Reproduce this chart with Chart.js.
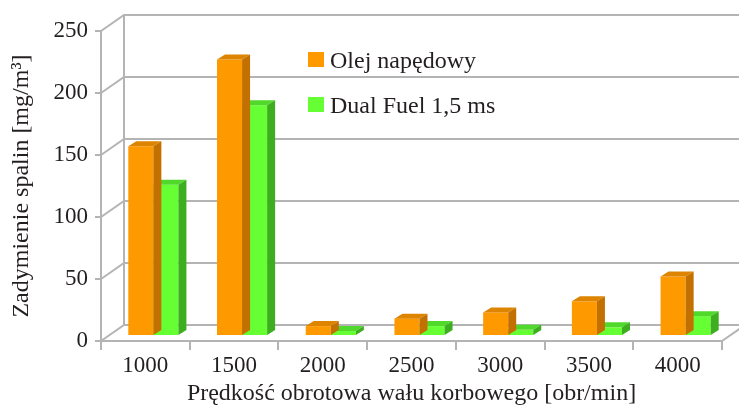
<!DOCTYPE html>
<html>
<head>
<meta charset="utf-8">
<script src="https://cdn.jsdelivr.net/npm/chart.js@4.4.1/dist/chart.umd.min.js"></script>
<style>
    html, body { margin: 0; padding: 0; background: #ffffff; }
</style>
</head>
<body>
<canvas id="myChart" width="739" height="407"></canvas>
<script>
const speeds = ['1000', '1500', '2000', '2500', '3000', '3500', '4000'];
const diesel = [153, 223, 8, 14, 19, 28, 48];
const dualFuel = [122, 186, 4, 8, 5, 7, 16];
const seriesNames = ['Olej napędowy', 'Dual Fuel 1,5 ms'];
const yMin = 0;
const yMax = 250;
const yStep = 50;

const FONT = 'Liberation Serif';
const TEXT = '#231f20';
const GRID = '#b4b4b4';

// front, top, side shades for the fake 3D bars
const shades = [
    { front: '#ff9900', top: '#dd8500', side: '#c27000' },
    { front: '#66ff33', top: '#50d82a', side: '#3cae20' }
];

const wall = { dx: 23, dy: -16 };   // depth of the back wall
const shift = { dx: 8, dy: -5 };    // bars sit a bit inside the box
const depth = { dx: 8, dy: -5 };    // depth of each bar

const box3d = {
    id: 'box3d',
    beforeDatasetsDraw(chart) {
        const ctx = chart.ctx;
        const y = chart.scales.y;
        const area = chart.chartArea;
        ctx.save();
        ctx.strokeStyle = GRID;
        ctx.lineWidth = 2;
        y.ticks.forEach(t => {
            const py = y.getPixelForValue(t.value);
            ctx.beginPath();
            ctx.moveTo(area.left, py);
            ctx.lineTo(area.left + wall.dx, py + wall.dy);
            ctx.lineTo(chart.width, py + wall.dy);
            ctx.stroke();
        });
        // back wall left edge
        ctx.beginPath();
        ctx.moveTo(area.left + wall.dx, y.getPixelForValue(yMax) + wall.dy);
        ctx.lineTo(area.left + wall.dx, y.getPixelForValue(yMin) + wall.dy);
        ctx.stroke();
        // floor right edge
        ctx.beginPath();
        ctx.moveTo(area.right, area.bottom);
        ctx.lineTo(area.right + wall.dx, area.bottom + wall.dy);
        ctx.stroke();
        ctx.restore();

        ctx.save();
        ctx.translate(shift.dx, shift.dy);
    },
    afterDatasetDraw(chart, args) {
        const ctx = chart.ctx;
        const s = shades[args.index];
        chart.getDatasetMeta(args.index).data.forEach(bar => {
            const l = bar.x - bar.width / 2;
            const r = bar.x + bar.width / 2;
            ctx.fillStyle = s.top;
            ctx.beginPath();
            ctx.moveTo(l, bar.y);
            ctx.lineTo(r, bar.y);
            ctx.lineTo(r + depth.dx, bar.y + depth.dy);
            ctx.lineTo(l + depth.dx, bar.y + depth.dy);
            ctx.closePath();
            ctx.fill();
            ctx.fillStyle = s.side;
            ctx.beginPath();
            ctx.moveTo(r, bar.y);
            ctx.lineTo(r + depth.dx, bar.y + depth.dy);
            ctx.lineTo(r + depth.dx, bar.base + depth.dy);
            ctx.lineTo(r, bar.base);
            ctx.closePath();
            ctx.fill();
        });
    },
    afterDatasetsDraw(chart) {
        chart.ctx.restore();
    },
    afterDraw(chart) {
        // legend
        const ctx = chart.ctx;
        ctx.save();
        ctx.font = '24px "' + FONT + '"';
        ctx.textBaseline = 'alphabetic';
        chart.data.datasets.forEach((ds, i) => {
            const top = 52 + i * 45;
            const w = ctx.measureText(ds.label).width;
            ctx.fillStyle = '#ffffff';
            ctx.fillRect(327, top - 5, w + 6, 27);
            ctx.fillStyle = ds.backgroundColor;
            ctx.fillRect(308, top, 16, 15);
            ctx.fillStyle = TEXT;
            ctx.fillText(ds.label, 330, top + 16);
        });
        ctx.restore();
    }
};

const ctx = document.getElementById('myChart').getContext('2d');

new Chart(ctx, {
    type: 'bar',
    data: {
        labels: speeds,
        datasets: [
            { label: seriesNames[0], data: diesel, backgroundColor: shades[0].front, clip: false,
              categoryPercentage: 0.565, barPercentage: 1 },
            { label: seriesNames[1], data: dualFuel, backgroundColor: shades[1].front, clip: false,
              categoryPercentage: 0.565, barPercentage: 1 }
        ]
    },
    options: {
        responsive: false,
        animation: false,
        events: [],
        layout: {
            padding: { top: 31, right: 17, left: 0, bottom: 0 }
        },
        plugins: {
            legend: { display: false },
            tooltip: { enabled: false }
        },
        scales: {
            x: {
                afterFit(scale) { scale.height = 66; },
                grid: {
                    drawOnChartArea: false,
                    tickLength: 9,
                    color: GRID,
                    lineWidth: 2
                },
                border: { display: true, color: GRID, width: 2 },
                ticks: {
                    padding: 2,
                    color: TEXT,
                    font: { family: FONT, size: 23 }
                },
                title: {
                    display: true,
                    text: 'Prędkość obrotowa wału korbowego [obr/min]',
                    color: TEXT,
                    font: { family: FONT, size: 24 },
                    padding: { top: 0, bottom: -1 }
                }
            },
            y: {
                min: yMin,
                max: yMax,
                afterFit(scale) { scale.width = 101; },
                grid: {
                    drawOnChartArea: false,
                    tickLength: 6,
                    color: GRID,
                    lineWidth: 2
                },
                border: { display: true, color: GRID, width: 2 },
                ticks: {
                    stepSize: yStep,
                    padding: 7,
                    color: TEXT,
                    font: { family: FONT, size: 23 }
                },
                title: {
                    display: true,
                    text: 'Zadymienie spalin [mg/m³]',
                    color: TEXT,
                    font: { family: FONT, size: 24 },
                    padding: { top: 7, bottom: 0 }
                }
            }
        }
    },
    plugins: [box3d]
});
</script>
</body>
</html>
